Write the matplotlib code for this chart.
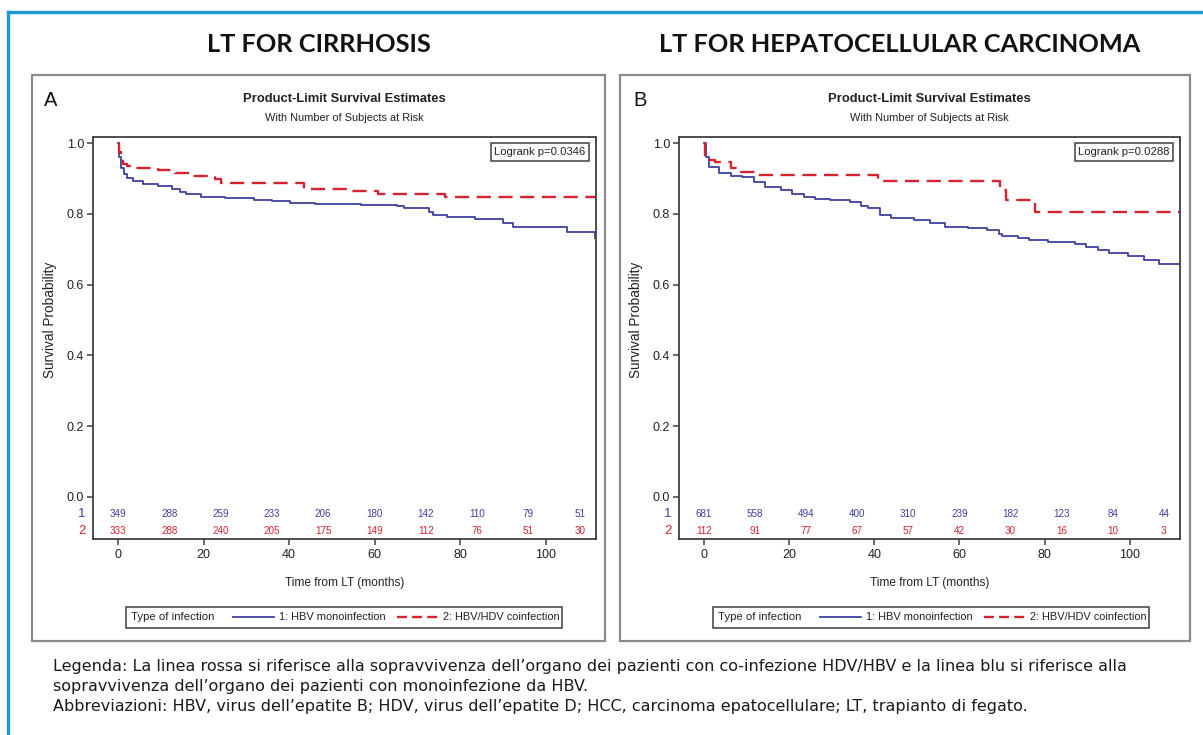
'''Kaplan-Meier graft survival, HBV mono vs HBV/HDV coinfection (two panels).'''
import matplotlib
matplotlib.use('Agg')
import matplotlib.pyplot as plt
from matplotlib.lines import Line2D
from matplotlib.patches import Rectangle

# figure size in pixels (dpi 100)
W, H = 1203, 735

# ---- data ----
# panel A, LT for cirrhosis
a_mono_t = [0, 0.3, 0.8, 1.3, 2.2, 3.4, 5.9, 9.3, 12.6, 14.5, 16.0, 19.3, 25.1, 31.8,
            36.0, 40.2, 46.0, 56.8, 62.0, 65.2, 66.9, 72.8, 73.6, 76.9, 83.6, 90.0,
            92.3, 105.0, 111.6]
a_mono_s = [1.0, 0.96, 0.93, 0.912, 0.90, 0.893, 0.883, 0.878, 0.869, 0.862, 0.855, 0.847,
            0.845, 0.838, 0.835, 0.831, 0.829, 0.826, 0.825, 0.822, 0.815, 0.805, 0.797,
            0.790, 0.785, 0.774, 0.763, 0.749, 0.731]
a_co_t = [0, 0.2, 0.6, 1.2, 2.0, 4.3, 9.3, 13.4, 17.6, 22.6, 24.0, 43.5, 54.4, 60.9,
          76.4, 111.8]
a_co_s = [1.0, 0.975, 0.955, 0.942, 0.935, 0.930, 0.923, 0.916, 0.907, 0.897, 0.888,
          0.871, 0.863, 0.855, 0.847, 0.847]

# panel B, LT for hepatocellular carcinoma
b_mono_t = [0, 0.4, 1.3, 3.6, 6.3, 9.0, 11.7, 14.4, 18.0, 20.7, 23.4, 26.1, 29.6, 34.2,
            36.9, 38.6, 41.3, 44.0, 49.4, 53.0, 56.6, 62.0, 66.5, 69.2, 70.1, 73.7, 76.4,
            80.9, 87.1, 89.8, 92.5, 95.2, 99.7, 103.3, 106.9, 111.8]
b_mono_s = [1.0, 0.961, 0.933, 0.914, 0.907, 0.903, 0.890, 0.876, 0.867, 0.857, 0.848,
            0.841, 0.839, 0.834, 0.822, 0.815, 0.796, 0.787, 0.782, 0.773, 0.763, 0.761,
            0.755, 0.744, 0.737, 0.733, 0.725, 0.720, 0.716, 0.706, 0.699, 0.689, 0.680,
            0.670, 0.657, 0.657]
b_co_t = [0, 0.3, 2.7, 6.3, 8.1, 12.6, 40.9, 69.6, 71.0, 77.7, 111.8]
b_co_s = [1.0, 0.952, 0.945, 0.928, 0.919, 0.909, 0.893, 0.867, 0.838, 0.804, 0.804]

# number at risk
risk_times = [0, 12, 24, 36, 48, 60, 72, 84, 96, 108]
a_risk_mono = [349, 288, 259, 233, 206, 180, 142, 110, 79, 51]
a_risk_co = [333, 288, 240, 205, 175, 149, 112, 76, 51, 30]
b_risk_mono = [681, 558, 494, 400, 310, 239, 182, 123, 84, 44]
b_risk_co = [112, 91, 77, 67, 57, 42, 30, 16, 10, 3]

panel_titles = ['LT FOR CIRRHOSIS', 'LT FOR HEPATOCELLULAR CARCINOMA']
panel_letters = ['A', 'B']
logrank = ['Logrank p=0.0346', 'Logrank p=0.0288']
y_ticks = [0.0, 0.2, 0.4, 0.6, 0.8, 1.0]
x_ticks = [0, 20, 40, 60, 80, 100]
group_labels = ['1: HBV monoinfection', '2: HBV/HDV coinfection']

caption = [
    'Legenda: La linea rossa si riferisce alla sopravvivenza dell\u2019organo dei pazienti '
    'con co-infezione HDV/HBV e la linea blu si riferisce alla',
    'sopravvivenza dell\u2019organo dei pazienti con monoinfezione da HBV.',
    'Abbreviazioni: HBV, virus dell\u2019epatite B; HDV, virus dell\u2019epatite D; HCC, '
    'carcinoma epatocellulare; LT, trapianto di fegato.',
]

BLUE = '#40409f'
RED = '#d2232e'
FRAME = '#3f3f3f'
TXT = '#222222'
SAS = 'Liberation Sans'   # stands in for the narrow SAS font


def fx(px):
    return px / W


def fy(py):
    return 1 - py / H


fig = plt.figure(figsize=(W / 100, H / 100), dpi=100)
fig.patch.set_facecolor('white')

# light blue frame of the box (top and left only)
fig.add_artist(Line2D([fx(8), fx(1203)], [fy(12), fy(12)], color='#1c9ad6', lw=2.4))
fig.add_artist(Line2D([fx(8), fx(8)], [fy(12), fy(735)], color='#1c9ad6', lw=2.4))

panels = [
    dict(box=(32, 605), ax=(93, 596), leg=126, letter_x=44, title_x=319,
         mono=(a_mono_t, a_mono_s), co=(a_co_t, a_co_s),
         risk=(a_risk_mono, a_risk_co)),
    dict(box=(620, 1190), ax=(679, 1180), leg=713, letter_x=633, title_x=900,
         mono=(b_mono_t, b_mono_s), co=(b_co_t, b_co_s),
         risk=(b_risk_mono, b_risk_co)),
]

ax_top, ax_bot = 137, 539
for i, p in enumerate(panels):
    bx0, bx1 = p['box']
    fig.patches.append(Rectangle((fx(bx0), fy(641)), fx(bx1 - bx0), (641 - 75) / H,
                                 transform=fig.transFigure, fc='none', ec='#8a8a8a',
                                 lw=1.6, zorder=-1))
    fig.text(fx(p['title_x']), fy(44), panel_titles[i], ha='center', va='center',
             fontsize=18.3, fontweight='bold', family='Lato', color='#111111')
    fig.text(fx(p['letter_x']), fy(100), panel_letters[i], ha='left', va='center',
             fontsize=14.5, family='Liberation Sans', color='#111111')

    x0, x1 = p['ax']
    ax = fig.add_axes([fx(x0), fy(ax_bot), (x1 - x0) / W, (ax_bot - ax_top) / H])
    axc = (x0 + x1) / 2
    fig.text(fx(axc), fy(99), 'Product-Limit Survival Estimates', ha='center',
             va='center', fontsize=9.4, fontweight='bold', family=SAS, color=TXT)
    fig.text(fx(axc), fy(118), 'With Number of Subjects at Risk', ha='center',
             va='center', fontsize=7.9, family=SAS, color=TXT)

    ax.step(p['mono'][0], p['mono'][1], where='post', color=BLUE, lw=1.3)
    ax.step(p['co'][0], p['co'][1], where='post', color=RED, lw=1.7,
            linestyle=(0, (6, 3.2)))

    ax.set_xlim(-5.85, 111.8)
    ax.set_ylim(-0.119, 1.017)
    ax.set_yticks(y_ticks)
    ax.set_yticklabels([f'{v:.1f}' for v in y_ticks])
    ax.set_xticks(x_ticks)
    for sp in ax.spines.values():
        sp.set_color(FRAME)
        sp.set_linewidth(1.3)
    ax.tick_params(direction='out', length=4.5, width=1.1, color=FRAME,
                   labelsize=9, labelcolor=TXT, pad=2)
    ax.tick_params(axis='x', pad=3)
    for lab in ax.get_xticklabels() + ax.get_yticklabels():
        lab.set_family(SAS)

    # number at risk rows inside the plot area
    for t, n1, n2 in zip(risk_times, p['risk'][0], p['risk'][1]):
        ax.text(t, -0.048, str(n1), color=BLUE, ha='center', va='center',
                fontsize=7.1, family=SAS)
        ax.text(t, -0.096, str(n2), color=RED, ha='center', va='center',
                fontsize=7.1, family=SAS)
    ax.text(-11 / (x1 - x0), -0.048, '1', color=BLUE, ha='center', va='center',
            fontsize=9.5, family=SAS, transform=ax.get_yaxis_transform())
    ax.text(-11 / (x1 - x0), -0.096, '2', color=RED, ha='center', va='center',
            fontsize=9.5, family=SAS, transform=ax.get_yaxis_transform())

    ax.text(-43 / (x1 - x0), 0.5, 'Survival Probability', rotation=90, ha='center',
            va='center', fontsize=9.8, family=SAS, color=TXT,
            transform=ax.get_yaxis_transform())
    fig.text(fx(axc), fy(583), 'Time from LT (months)', ha='center', va='center',
             fontsize=8.6, family=SAS, color=TXT)

    ax.text(1 - 10.5 / (x1 - x0), 1 - 10 / (ax_bot - ax_top), logrank[i],
            transform=ax.transAxes, ha='right', va='top', fontsize=8.1,
            family=SAS, color=TXT,
            bbox=dict(boxstyle='square,pad=0.32', fc='white', ec=FRAME, lw=1.1))

    # legend strip under the axis title
    lx = p['leg']
    fig.patches.append(Rectangle((fx(lx), fy(628)), 436 / W, 21 / H,
                                 transform=fig.transFigure, fc='none', ec=FRAME,
                                 lw=1.1, zorder=2))
    fig.text(fx(lx + 5), fy(617.5), 'Type of infection', ha='left', va='center',
             fontsize=8.2, family=SAS, color=TXT, zorder=3)
    handles = [Line2D([], [], color=BLUE, lw=1.3),
               Line2D([], [], color=RED, lw=1.7, linestyle=(0, (4.2, 2.2)))]
    leg = ax.legend(handles, group_labels, ncol=2, loc='center left',
                    bbox_to_anchor=(fx(lx + 107), fy(617.5)),
                    bbox_transform=fig.transFigure, frameon=False,
                    handlelength=3.75, handletextpad=0.46, columnspacing=1.0,
                    borderpad=0, borderaxespad=0,
                    prop={'family': SAS, 'size': 7.9})
    for txt in leg.get_texts():
        txt.set_color(TXT)

for k, line in enumerate(caption):
    fig.text(fx(53), fy(667 + 20 * k), line, ha='left', va='center', fontsize=11.5,
             family='DejaVu Sans', color='#1a1a1a')

fig.savefig('out.png', dpi=100)
